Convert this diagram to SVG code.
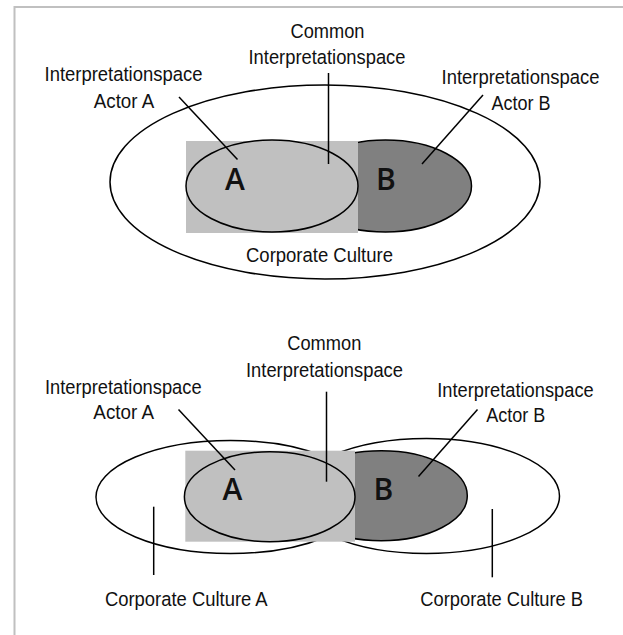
<svg xmlns="http://www.w3.org/2000/svg" width="623" height="635" viewBox="0 0 623 635">
<style>
.bg{fill:#ffffff}
.frame{fill:none;stroke:#c0c0c0;stroke-width:2}
.outer{fill:#ffffff;stroke:#000;stroke-width:1.5}
.light{fill:#c0c0c0;stroke:#000;stroke-width:1.5}
.dark{fill:#808080;stroke:#000;stroke-width:1.5}
.box{fill:#c0c0c0;stroke:none}
.lead{stroke:#000;stroke-width:1.5;fill:none}
.lbl{font-family:"Liberation Sans Narrow","Liberation Sans",Arial,sans-serif;font-size:20.5px;fill:#111;text-anchor:middle}
.big{font-family:"Open Sans","DejaVu Sans",sans-serif;font-weight:600;font-size:30px;fill:#111;text-anchor:middle}
</style>
<rect class="bg" x="0" y="0" width="623" height="635"/>
<path class="frame" d="M14.5,635 V7 H623"/>

<!-- Top panel -->
<g id="top-culture">
<ellipse class="outer" cx="325" cy="182" rx="215" ry="97"/>
<text class="lbl" x="319.5" y="261.5" textLength="147" lengthAdjust="spacingAndGlyphs">Corporate Culture</text>
</g>
<g id="top-actorB">
<ellipse class="dark" cx="385.5" cy="186" rx="86" ry="46"/>
</g>
<g id="top-common">
<rect class="box" x="186" y="141" width="172" height="92"/>
</g>
<g id="top-actorA">
<ellipse class="light" cx="272" cy="186" rx="86" ry="46"/>
<text class="big" x="235" y="190">A</text>
</g>
<g id="top-B-letter">
<text class="big" x="386" y="190">B</text>
</g>
<g id="top-labels">
<text class="lbl" x="327.5" y="38" textLength="74" lengthAdjust="spacingAndGlyphs">Common</text>
<text class="lbl" x="327" y="64" textLength="157" lengthAdjust="spacingAndGlyphs">Interpretationspace</text>
<text class="lbl" x="123.5" y="81" textLength="158" lengthAdjust="spacingAndGlyphs">Interpretationspace</text>
<text class="lbl" x="124" y="107.5" textLength="60.5" lengthAdjust="spacingAndGlyphs">Actor A</text>
<text class="lbl" x="520.5" y="83.5" textLength="158" lengthAdjust="spacingAndGlyphs">Interpretationspace</text>
<text class="lbl" x="521" y="110" textLength="59" lengthAdjust="spacingAndGlyphs">Actor B</text>
</g>
<g id="top-connectors">
<line class="lead" x1="179" y1="97" x2="237.5" y2="159.5"/>
<line class="lead" x1="328.5" y1="73" x2="328.5" y2="164"/>
<line class="lead" x1="483" y1="95" x2="422" y2="164"/>
</g>

<!-- Bottom panel -->
<g id="bottom-cultureA">
<ellipse class="outer" cx="230.5" cy="497" rx="134.5" ry="56.5"/>
<text class="lbl" x="186.3" y="606" textLength="162.7" lengthAdjust="spacingAndGlyphs">Corporate Culture A</text>
</g>
<g id="bottom-cultureB">
<ellipse class="outer" cx="426.5" cy="496" rx="133" ry="57.5"/>
<text class="lbl" x="501.7" y="606" textLength="162.7" lengthAdjust="spacingAndGlyphs">Corporate Culture B</text>
</g>
<g id="bottom-actorB">
<ellipse class="dark" cx="381.3" cy="495.7" rx="86" ry="45"/>
</g>
<g id="bottom-common">
<rect class="box" x="185.3" y="450.7" width="169.7" height="91"/>
</g>
<g id="bottom-actorA">
<ellipse class="light" cx="269.7" cy="496.7" rx="85.3" ry="45"/>
<text class="big" x="232.5" y="500">A</text>
</g>
<g id="bottom-B-letter">
<text class="big" x="383.3" y="500">B</text>
</g>
<g id="bottom-labels">
<text class="lbl" x="324.3" y="350" textLength="74" lengthAdjust="spacingAndGlyphs">Common</text>
<text class="lbl" x="324.5" y="376.5" textLength="157" lengthAdjust="spacingAndGlyphs">Interpretationspace</text>
<text class="lbl" x="123.3" y="394" textLength="156.7" lengthAdjust="spacingAndGlyphs">Interpretationspace</text>
<text class="lbl" x="123.7" y="419.3" textLength="60.7" lengthAdjust="spacingAndGlyphs">Actor A</text>
<text class="lbl" x="515.5" y="396.5" textLength="156.4" lengthAdjust="spacingAndGlyphs">Interpretationspace</text>
<text class="lbl" x="515.8" y="421.7" textLength="59" lengthAdjust="spacingAndGlyphs">Actor B</text>
</g>
<g id="bottom-connectors">
<line class="lead" x1="178.5" y1="409.5" x2="235" y2="470"/>
<line class="lead" x1="326.5" y1="391.7" x2="326.5" y2="481.7"/>
<line class="lead" x1="477.5" y1="409.5" x2="418.5" y2="476.5"/>
<line class="lead" x1="153.7" y1="506.7" x2="153.7" y2="575"/>
<line class="lead" x1="492.3" y1="509" x2="492.3" y2="577.3"/>
</g>
</svg>
